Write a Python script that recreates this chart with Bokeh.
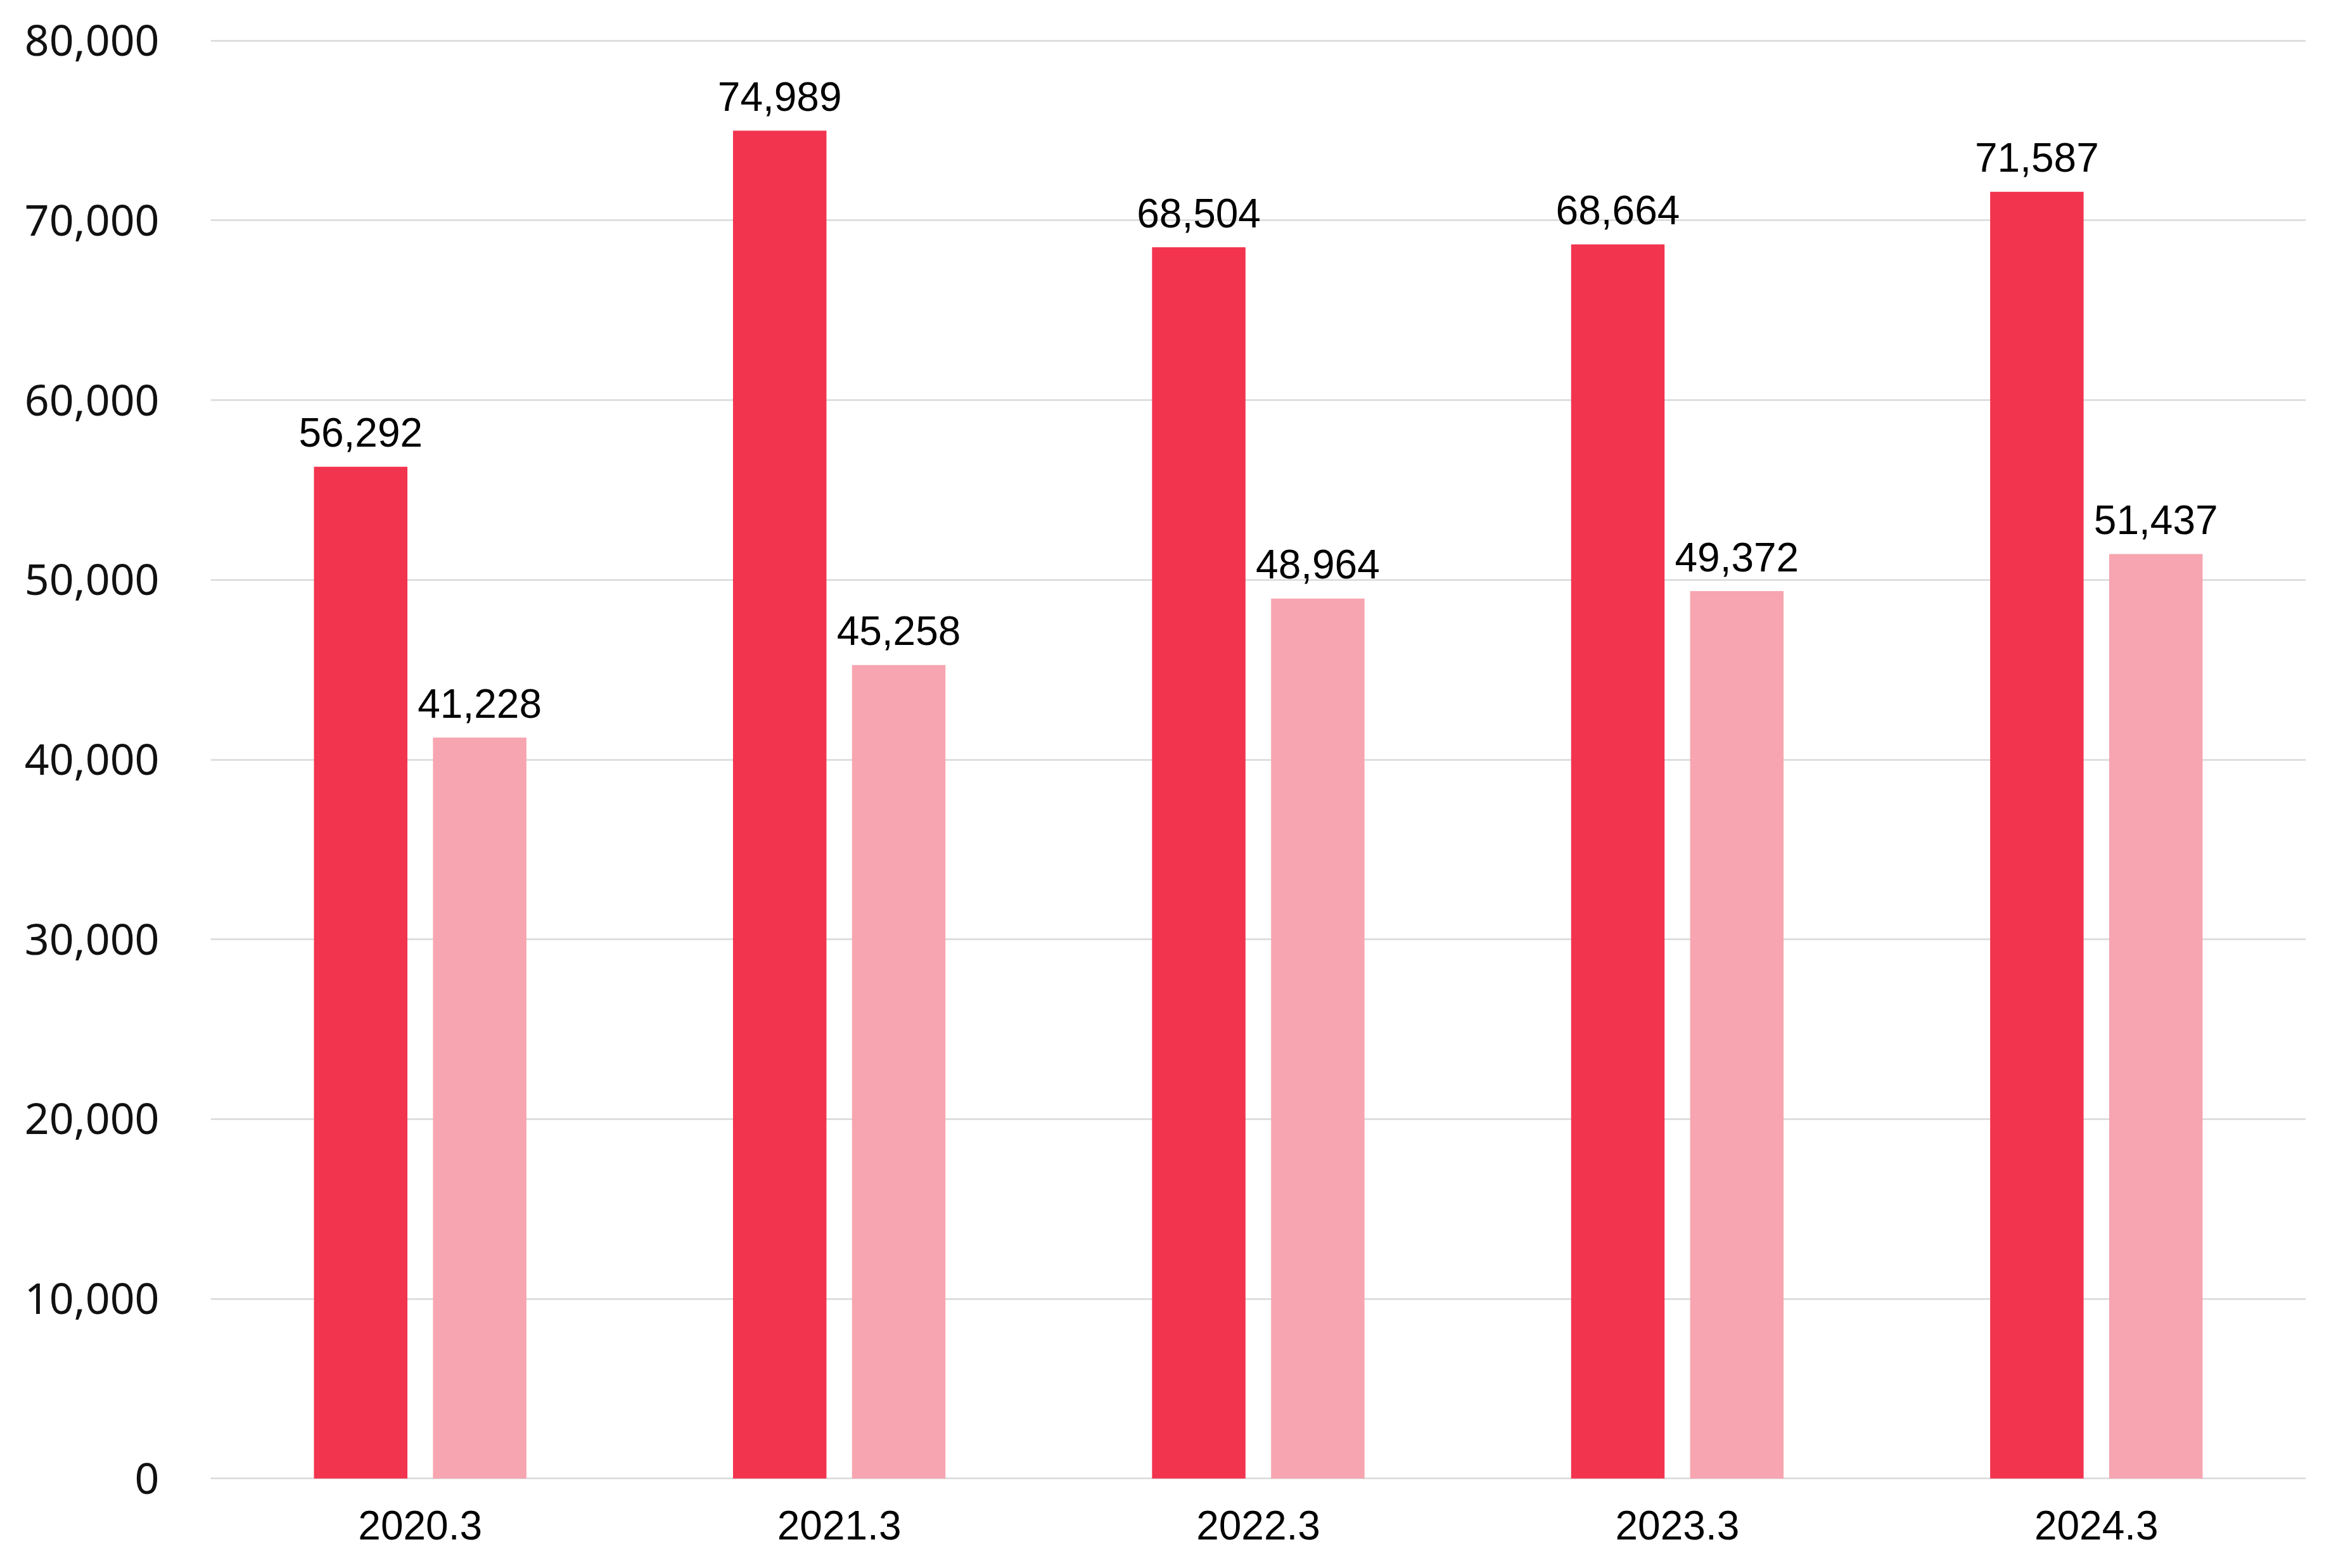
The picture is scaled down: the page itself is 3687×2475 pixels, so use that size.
from bokeh.plotting import figure
from bokeh.models import ColumnDataSource, NumeralTickFormatter, FixedTicker, Range1d
from bokeh.transform import dodge
from bokeh.core.properties import value
from bokeh.embed import file_html
from bokeh.resources import INLINE

# data
years = ['2020.3', '2021.3', '2022.3', '2023.3', '2024.3']
series_a = [56292, 74989, 68504, 68664, 71587]
series_b = [41228, 45258, 48964, 49372, 51437]
y_ticks = [0, 10000, 20000, 30000, 40000, 50000, 60000, 70000, 80000]

source = ColumnDataSource(data=dict(
    year=years,
    a=series_a,
    b=series_b,
    a_lbl=['{:,}'.format(v) for v in series_a],
    b_lbl=['{:,}'.format(v) for v in series_b],
))

# small pad so the 0 and 80,000 grid lines are not clipped
p = figure(x_range=years, y_range=Range1d(-200, 80200),
           width=3671, height=2459,
           output_backend="svg", toolbar_location=None,
           min_border_left=332, min_border_right=32,
           min_border_top=58, min_border_bottom=120)

red = '#F2344F'
pink = '#F7A5B0'
bar_w = 0.223
off = 0.142

p.vbar(x=dodge('year', -off, range=p.x_range), top='a', width=bar_w,
       source=source, color=red, line_color=None)
p.vbar(x=dodge('year', off, range=p.x_range), top='b', width=bar_w,
       source=source, color=pink, line_color=None)

# value labels above the bars
for col, lbl, dx in [('a', 'a_lbl', -off), ('b', 'b_lbl', off)]:
    p.text(x=dodge('year', dx, range=p.x_range), y=col, text=lbl, source=source,
           text_align='center', text_baseline='alphabetic', y_offset=-54,
           text_font=value('Liberation Sans'), text_font_size='64px',
           text_color='black')

p.outline_line_color = None
p.background_fill_color = 'white'
p.border_fill_color = 'white'

p.xgrid.grid_line_color = None
p.ygrid.grid_line_color = '#d9d9d9'
p.ygrid.grid_line_width = 2.4

p.yaxis.ticker = FixedTicker(ticks=y_ticks)
p.yaxis.formatter = NumeralTickFormatter(format='0,0')
p.yaxis.major_label_text_font = 'Noto Sans'
p.yaxis.major_label_text_font_size = '68px'
p.yaxis.major_label_text_color = '#111111'
p.yaxis.major_label_standoff = 81

p.xaxis.major_label_text_font = 'Liberation Sans'
p.xaxis.major_label_text_font_size = '64px'
p.xaxis.major_label_text_color = 'black'
p.xaxis.major_label_standoff = 45

for ax in (p.xaxis, p.yaxis):
    ax.axis_line_color = None
    ax.major_tick_line_color = None
    ax.minor_tick_line_color = None
    ax.major_tick_in = 0
    ax.major_tick_out = 0

open("out.html", "w").write(file_html(p, INLINE))
